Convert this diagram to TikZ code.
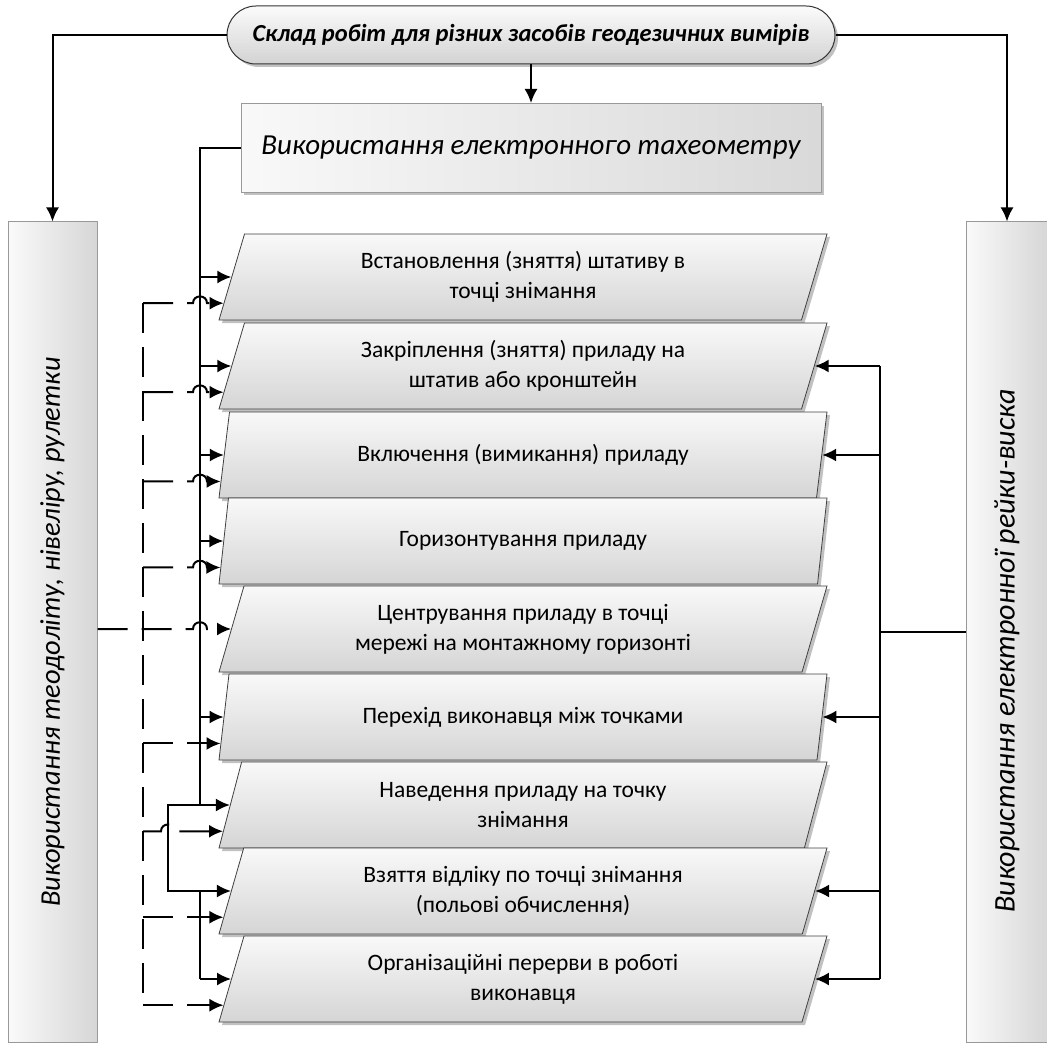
\documentclass[tikz,border=0pt]{standalone}
\usepackage{fontspec}
\setmainfont{Carlito}
\usetikzlibrary{shapes.geometric,shadows,arrows.meta,calc}
\tikzset{
  boxshadow/.style={drop shadow={shadow xshift=3pt,shadow yshift=-3pt,fill=gray!70,opacity=.7}},
  titlebox/.style={draw=black!80,line width=1pt,rounded corners=29pt,minimum width=608pt,minimum height=58pt,inner sep=0pt,top color=gray!3,bottom color=gray!35,boxshadow,font=\fontsize{24.5}{28}\selectfont\bfseries\itshape},
  toolbox/.style={draw=gray!80,line width=1pt,minimum width=580pt,minimum height=89pt,inner sep=0pt,left color=gray!5,right color=gray!30,boxshadow,font=\fontsize{29}{34}\selectfont\itshape},
  sidebox/.style={draw=gray!80,line width=1pt,minimum height=820pt,inner sep=0pt,left color=gray!4,right color=gray!32,font=\itshape},
  workbox/.style={trapezium,trapezium left angle=63.43,trapezium right angle=116.57,trapezium stretches body,minimum width=608pt,minimum height=86pt,inner sep=0pt,draw=black!75,line width=.8pt,top color=gray!5,bottom color=gray!33,boxshadow,align=center,font=\fontsize{23.5}{30}\selectfont},
  wire/.style={line width=2pt},
  arr/.style={line width=2pt,-{Latex[length=14pt,width=13pt]}},
  dwire/.style={line width=2pt,dash pattern=on 30pt off 14pt},
  darr/.style={line width=2pt,dash pattern=on 30pt off 14pt,-{Latex[length=14pt,width=13pt]}}
}
\begin{document}
\begin{tikzpicture}[x=1pt,y=-1pt]
\useasboundingbox (0,0) rectangle (1046,1048);
\node[titlebox] (title) at (531,35) {Склад робіт для різних засобів геодезичних вимірів};
\node[toolbox] (tachy) at (531,148) {Використання електронного тахеометру};
\node[sidebox,minimum width=89pt] (theo) at (52.5,632) {\fontsize{28.5}{32}\selectfont\rotatebox{90}{Використання теодоліту, нівеліру, рулетки}};
\node[sidebox,minimum width=82pt] (rail) at (1007,632) {\fontsize{30}{34}\selectfont\rotatebox{90}{Використання електронної рейки-виска\hspace{38pt}}};
\node[workbox] (w1) at (523,277) {Встановлення (зняття) штативу в\\точці знімання};
\node[workbox] (w2) at (523,366) {Закріплення (зняття) приладу на\\штатив або кронштейн};
\node[workbox] (w3) at (523,455) {Включення (вимикання) приладу};
\node[workbox] (w4) at (523,541) {Горизонтування приладу};
\node[workbox] (w5) at (523,629) {Центрування приладу в точці\\мережі на монтажному горизонті};
\node[workbox] (w6) at (523,717) {Перехід виконавця між точками};
\node[workbox] (w7) at (523,805) {Наведення приладу на точку\\знімання};
\node[workbox] (w8) at (523,891) {Взяття відліку по точці знімання\\(польові обчислення)};
\node[workbox] (w9) at (523,979) {Організаційні перерви в роботі\\виконавця};
\coordinate (sbus) at (200,0);
\coordinate (sjog) at (168,0);
\coordinate (dbus) at (143,0);
\coordinate (rbus) at (880,0);

\draw[arr] (title.west) -| (theo.north);
\draw[arr] (title.east) -| (rail.north);
\draw[arr] (title.south) -- (tachy.north);

\draw[wire] (tachy.west) -| (sbus |- w7.180) -| (sjog |- w8.180) -- (sbus |- w8.180) -- (sbus |- w9.180);
\draw[arr] (sbus |- w1.180) -- (w1.180);
\draw[arr] (sbus |- w2.180) -- (w2.180);
\draw[arr] (sbus |- w3.180) -- (w3.180);
\draw[arr] (sbus |- w4.180) -- (w4.180);
\draw[arr] (sbus |- w6.180) -- (w6.180);
\draw[arr] (sjog |- w7.180) -- (w7.180);
\draw[arr] (sjog |- w8.180) -- (w8.180);
\draw[arr] (sbus |- w9.180) -- (w9.180);

\draw[dwire] (dbus |- w1.185) -- (dbus |- w9.185);
\draw[darr] (dbus |- w1.185) -- ($(sbus |- w1.185)+(-7,0)$) .. controls +(0,-9) and +(0,-9) .. ($(sbus |- w1.185)+(7,0)$) -- (w1.185);
\draw[darr] (dbus |- w2.185) -- ($(sbus |- w2.185)+(-7,0)$) .. controls +(0,-9) and +(0,-9) .. ($(sbus |- w2.185)+(7,0)$) -- (w2.185);
\draw[darr] (dbus |- w3.185) -- ($(sbus |- w3.185)+(-7,0)$) .. controls +(0,-9) and +(0,-9) .. ($(sbus |- w3.185)+(7,0)$) -- (w3.185);
\draw[darr] (dbus |- w4.185) -- ($(sbus |- w4.185)+(-7,0)$) .. controls +(0,-9) and +(0,-9) .. ($(sbus |- w4.185)+(7,0)$) -- (w4.185);
\draw[darr] (theo.east |- w5.180) -- ($(sbus |- w5.180)+(-7,0)$) .. controls +(0,-9) and +(0,-9) .. ($(sbus |- w5.180)+(7,0)$) -- (w5.180);
\draw[darr] (dbus |- w6.185) -- (w6.185);
\draw[darr] (dbus |- w7.185) -- ($(sjog |- w7.185)+(-7,0)$) .. controls +(0,-9) and +(0,-9) .. ($(sjog |- w7.185)+(7,0)$) -- (w7.185);
\draw[darr] (dbus |- w8.185) -- (w8.185);
\draw[darr] (dbus |- w9.185) -- (w9.185);

\draw[wire] (rail.west) -- (rbus |- rail.west);
\draw[wire] (rbus |- w2.0) -- (rbus |- w9.0);
\draw[arr] (rbus |- w2.0) -- (w2.0);
\draw[arr] (rbus |- w3.0) -- (w3.0);
\draw[arr] (rbus |- w6.0) -- (w6.0);
\draw[arr] (rbus |- w8.0) -- (w8.0);
\draw[arr] (rbus |- w9.0) -- (w9.0);
\end{tikzpicture}
\end{document}
